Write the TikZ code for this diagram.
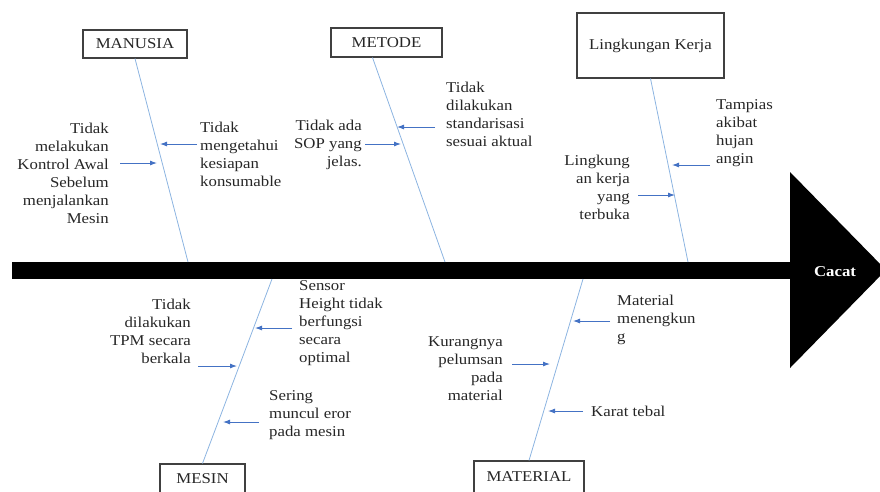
\documentclass[tikz,border=0pt]{standalone}
\usepackage{fontspec}
\setmainfont{Liberation Serif}[FakeStretch=1.12]
\usetikzlibrary{arrows.meta}
\definecolor{boneblue}{RGB}{140,180,225}
\definecolor{arrowblue}{RGB}{68,114,196}
\tikzset{
    category/.style={draw=black!75,line width=1.1pt,fill=white,inner sep=0pt,
        font=\fontsize{15}{18}\selectfont,text=black!85},
    bone/.style={draw=boneblue,line width=0.8pt},
    cause/.style={->,>={Latex[length=7pt,width=5pt]},draw=arrowblue,line width=0.9pt,shorten <=7pt},
    lbl/.style={inner sep=0pt,font=\fontsize{15}{18}\selectfont,text=black!85},
}

\begin{document}
\begin{tikzpicture}[x=1pt,y=-1pt]
    \useasboundingbox (0,0) rectangle (880,491);
    \clip (0,0) rectangle (880,491);
    % spine and head
    \fill (12,262) rectangle (790,279);
    \fill (790,172) -- (886,270) -- (790,368) -- cycle;
    \node[lbl,text=white,font=\fontsize{15}{18}\selectfont\bfseries] (cacat) at (835,272) {Cacat};
    \coordinate (manusiaEnd) at (188,262);
    \coordinate (metodeEnd) at (445,262);
    \coordinate (lingkunganEnd) at (688,262);
    \coordinate (mesinEnd) at (272,279);
    \coordinate (materialEnd) at (583,279);

    % categories
    \node[category,minimum width=104,minimum height=28] (manusia) at (135,44) {MANUSIA};
    \node[category,minimum width=111,minimum height=29] (metode) at (386.5,42.5) {METODE};
    \node[category,minimum width=147,minimum height=65] (lingkungan) at (650.5,45.5) {Lingkungan Kerja};
    \node[category,minimum width=85,minimum height=30] (mesin) at (202.5,479) {MESIN};
    \node[category,minimum width=110,minimum height=32] (material) at (529,477) {MATERIAL};

    \draw[bone] (manusia.south) -- (manusiaEnd);
    \draw[bone] ([xshift=-14pt]metode.south) -- (metodeEnd);
    \draw[bone] (lingkungan.south) -- (lingkunganEnd);
    \draw[bone] (mesin.north) -- (mesinEnd);
    \draw[bone] (material.north) -- (materialEnd);

    \begin{scope} % MANUSIA
        \node[lbl,anchor=north west,align=left] (c1) at (200,122) {Tidak\\mengetahui\\kesiapan\\konsumable};
        \coordinate (c1h) at (160,144);
        \draw[cause,shorten <=3pt] (c1.west |- c1h) -- (c1h);
        \node[lbl,anchor=north east,align=right] (c2) at (109,123) {Tidak\\melakukan\\Kontrol Awal\\Sebelum\\menjalankan\\Mesin};
        \coordinate (c2h) at (157,163);
        \draw[cause,shorten <=11pt] (c2.east |- c2h) -- (c2h);
    \end{scope}
    \begin{scope} % METODE
        \node[lbl,anchor=north west,align=left] (c3) at (446,82) {Tidak\\dilakukan\\standarisasi\\sesuai aktual};
        \coordinate (c3h) at (397,127);
        \draw[cause,shorten <=11pt] (c3.west |- c3h) -- (c3h);
        \node[lbl,anchor=north east,align=right] (c4) at (362,120) {Tidak ada\\SOP yang\\jelas.};
        \coordinate (c4h) at (401,144);
        \draw[cause,shorten <=3pt] (c4.east |- c4h) -- (c4h);
    \end{scope}
    \begin{scope} % LINGKUNGAN KERJA
        \node[lbl,anchor=north west,align=left] (c5) at (716,99) {Tampias\\akibat\\hujan\\angin};
        \coordinate (c5h) at (672,165);
        \draw[cause,shorten <=6pt] (c5.west |- c5h) -- (c5h);
        \node[lbl,anchor=north east,align=right] (c6) at (630,155) {Lingkung\\an kerja\\yang\\terbuka};
        \coordinate (c6h) at (675,195);
        \draw[cause,shorten <=8pt] (c6.east |- c6h) -- (c6h);
    \end{scope}
    \begin{scope} % MESIN
        \node[lbl,anchor=north west,align=left] (c7) at (299,280) {Sensor\\Height tidak\\berfungsi\\secara\\optimal};
        \coordinate (c7h) at (255,328);
        \draw[cause] (c7.west |- c7h) -- (c7h);
        \node[lbl,anchor=north east,align=right] (c8) at (191,299) {Tidak\\dilakukan\\TPM secara\\berkala};
        \coordinate (c8h) at (237,366);
        \draw[cause] (c8.east |- c8h) -- (c8h);
        \node[lbl,anchor=north west,align=left] (c9) at (269,390) {Sering\\muncul eror\\pada mesin};
        \coordinate (c9h) at (223,422);
        \draw[cause,shorten <=10pt] (c9.west |- c9h) -- (c9h);
    \end{scope}
    \begin{scope} % MATERIAL
        \node[lbl,anchor=north west,align=left] (c10) at (617,295) {Material\\menengkun\\g};
        \coordinate (c10h) at (573,321);
        \draw[cause] (c10.west |- c10h) -- (c10h);
        \node[lbl,anchor=north east,align=right] (c11) at (503,336) {Kurangnya\\pelumsan\\pada\\material};
        \coordinate (c11h) at (550,364);
        \draw[cause,shorten <=9pt] (c11.east |- c11h) -- (c11h);
        \node[lbl,anchor=west] (c12) at (591,411) {Karat tebal};
        \coordinate (c12h) at (548,411);
        \draw[cause,shorten <=8pt] (c12.west |- c12h) -- (c12h);
    \end{scope}
\end{tikzpicture}
\end{document}
